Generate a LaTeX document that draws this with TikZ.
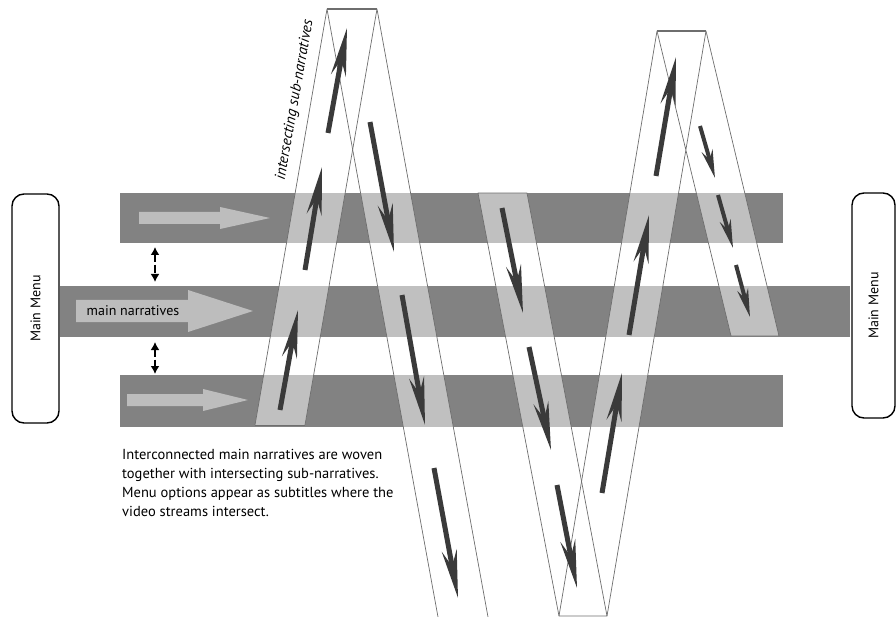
\documentclass[tikz,border=0pt]{standalone}
\usepackage{fontspec}
\setmainfont{PT Sans}
\usetikzlibrary{arrows.meta}
\definecolor{bargray}{HTML}{828282}
\definecolor{lightarr}{HTML}{BDBDBD}
\definecolor{darkarr}{HTML}{3A3A3A}
\definecolor{edgegray}{HTML}{6E6E6E}
\tikzset{bar/.style={fill=bargray}}
\tikzset{flow/.style={fill=lightarr}}
\tikzset{strip/.style={fill=white,fill opacity=0.5}}
\tikzset{rim/.style={draw=edgegray,line width=0.7pt,line join=round}}
\tikzset{sub/.style={draw=darkarr,line width=5pt,-{Stealth[length=48pt,width=15pt,inset=16pt]}}}
\tikzset{subsm/.style={draw=darkarr,line width=4pt,-{Stealth[length=28pt,width=11pt,inset=9pt]}}}
\tikzset{menu/.style={draw,rectangle,rounded corners=12pt,line width=1.4pt,fill=white,rotate=90,font=\fontsize{14}{16}\selectfont}}
\tikzset{link/.style={line width=2.6pt,{Latex[length=8pt,width=9pt]}-{Latex[length=8pt,width=9pt]},dash pattern=on 8pt off 2.5pt}}

\begin{document}
\begin{tikzpicture}[x=1pt,y=-1pt]
\useasboundingbox (0,0) rectangle (896,617);

\fill[bar] (120,193) rectangle (783,243);
\fill[bar] (60,286) rectangle (850,337);
\fill[bar] (120,375) rectangle (783,427);

\fill[flow] (139,212) -- (220,212) -- (220,207) -- (270,218) -- (220,229) -- (220,224) -- (139,224) -- cycle;
\fill[flow] (76,300) -- (188,300) -- (188,290) -- (253,311) -- (188,332) -- (188,322) -- (76,322) -- cycle;
\fill[flow] (127,394) -- (203,394) -- (203,389) -- (248,400) -- (203,411) -- (203,406) -- (127,406) -- cycle;
\node[font=\fontsize{14}{16}\selectfont] (main) at (133,311) {main narratives};

\coordinate (up1) at (155,247);
\coordinate (dn1) at (155,282);
\coordinate (up2) at (155,342);
\coordinate (dn2) at (155,374);
\draw[link] (up1) -- (dn1);
\draw[link] (up2) -- (dn2);

\fill[strip] (255,425) -- (305,425) -- (377,9) -- (327,9) -- cycle;
\fill[strip] (327,9) -- (377,9) -- (488,617) -- (438,617) -- cycle;
\fill[strip] (478,193) -- (527,193) -- (607,616) -- (559,616) -- cycle;
\fill[strip] (559,616) -- (607,616) -- (706,31) -- (657,31) -- cycle;
\fill[strip] (657,31) -- (706,31) -- (779,336) -- (731,336) -- cycle;

\draw[rim] (255,425) -- (305,425);
\draw[rim] (255,425) -- (327,9) -- (438,617);
\draw[rim] (305,425) -- (377,9) -- (488,617);
\draw[rim,line width=1.2pt] (327,9) -- (377,9);
\draw[rim] (478,193) -- (527,193) -- (607,616) -- (559,616) -- cycle;
\draw[rim] (559,616) -- (657,31) -- (731,336) -- (779,336) -- (706,31) -- (607,616);
\draw[rim,line width=1.2pt] (657,31) -- (706,31);

\draw[sub] (280,410) -- (298,310);
\draw[sub] (305,270) -- (322,167);
\draw[sub] (328,133) -- (347,28);
\draw[sub] (370,122) -- (394,252);
\draw[sub] (402,295) -- (425,425);
\draw[sub] (434,468) -- (458,598);
\draw[sub] (502,208) -- (523,313);
\draw[sub] (529,347) -- (551,450);
\draw[sub] (557,485) -- (577,588);
\draw[sub] (602,493) -- (622,373);
\draw[sub] (629,335) -- (649,215);
\draw[sub] (656,176) -- (676,57);
\draw[subsm] (700,126) -- (715,178);
\draw[subsm] (718,195) -- (733,248);
\draw[subsm] (736,265) -- (750,317);

\node[rotate=80,font=\fontsize{15}{17}\selectfont\itshape] (subs) at (295,100) {intersecting sub-narratives};

\node[menu,minimum width=229pt,minimum height=47pt] (menuL) at (35.5,308.5) {Main Menu};
\node[menu,minimum width=225pt,minimum height=43pt] (menuR) at (873.5,305.5) {Main Menu};

\node[anchor=north west,align=left,inner sep=0pt,font=\fontsize{14.5}{19}\selectfont] (note) at (122,449)
  {Interconnected main narratives are woven\\together with intersecting sub-narratives.\\Menu options appear as subtitles where the\\video streams intersect.};

\end{tikzpicture}
\end{document}
